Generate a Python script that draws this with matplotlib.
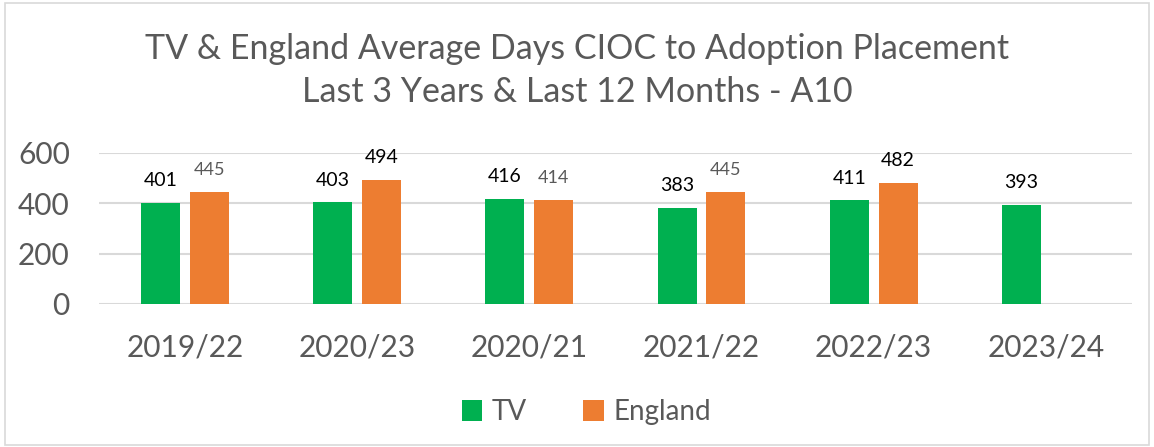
import numpy as np
import matplotlib.pyplot as plt
from matplotlib.patches import Rectangle

plt.rcParams['font.family'] = ['Lato', 'DejaVu Sans']

periods = ['2019/22', '2020/23', '2020/21', '2021/22', '2022/23', '2023/24']
tv = [401, 403, 416, 383, 411, 393]
england = [445, 494, 414, 445, 482, np.nan]

green = '#00B050'
orange = '#ED7D31'
grey = '#595959'

fig = plt.figure(figsize=(11.54, 4.47), dpi=100)
ax = fig.add_axes([0.0858, 0.320, 0.895, 0.338])

x = np.arange(len(periods))
w = 0.227
off = 0.142
b1 = ax.bar(x - off, tv, w, color=green, label='TV', zorder=3)
b2 = ax.bar(x + off, england, w, color=orange, label='England', zorder=3)

# data labels - Excel had mixed formatting on the England ones
eng_col = [grey, 'black', grey, grey, 'black', grey]
eng_size = [13, 14, 13, 13, 14, 13]
for xi, v in zip(x, tv):
    ax.annotate(str(v), (xi - off, v), xytext=(0, 10), textcoords='offset points',
                ha='center', va='bottom', fontsize=14, color='black')
for xi, v, c, s in zip(x, england, eng_col, eng_size):
    if np.isnan(v):
        continue
    ax.annotate(str(int(v)), (xi + off, v), xytext=(0, 10), textcoords='offset points',
                ha='center', va='bottom', fontsize=s, color=c)

ax.set_xlim(-0.5, len(periods) - 0.5)
ax.set_ylim(0, 600)
ax.set_yticks([0, 200, 400, 600])
ax.set_xticks(x)
ax.set_xticklabels(periods)
ax.tick_params(axis='both', length=0, labelsize=21.5, colors=grey)
ax.tick_params(axis='x', pad=21)
ax.tick_params(axis='y', pad=21)
ax.yaxis.grid(True, color='#D9D9D9', lw=1.5, zorder=0)
for s in ax.spines.values():
    s.set_visible(False)

fig.text(0.5, 0.842, 'TV & England Average Days CIOC to Adoption Placement\nLast 3 Years & Last 12 Months - A10',
         ha='center', va='center', fontsize=24.5, color=grey, linespacing=1.4)

fig.legend(handles=[b1, b2], loc='center', bbox_to_anchor=(0.508, 0.078), ncol=2,
           frameon=False, fontsize=20, labelcolor=grey, handlelength=0.75, handleheight=0.75,
           columnspacing=2.0, handletextpad=0.35)

fig.patches.append(Rectangle((0.004, 0.004), 0.992, 0.99, transform=fig.transFigure,
                             fill=False, edgecolor='#D9D9D9', lw=1.2))

fig.savefig('out.png', dpi=100)
